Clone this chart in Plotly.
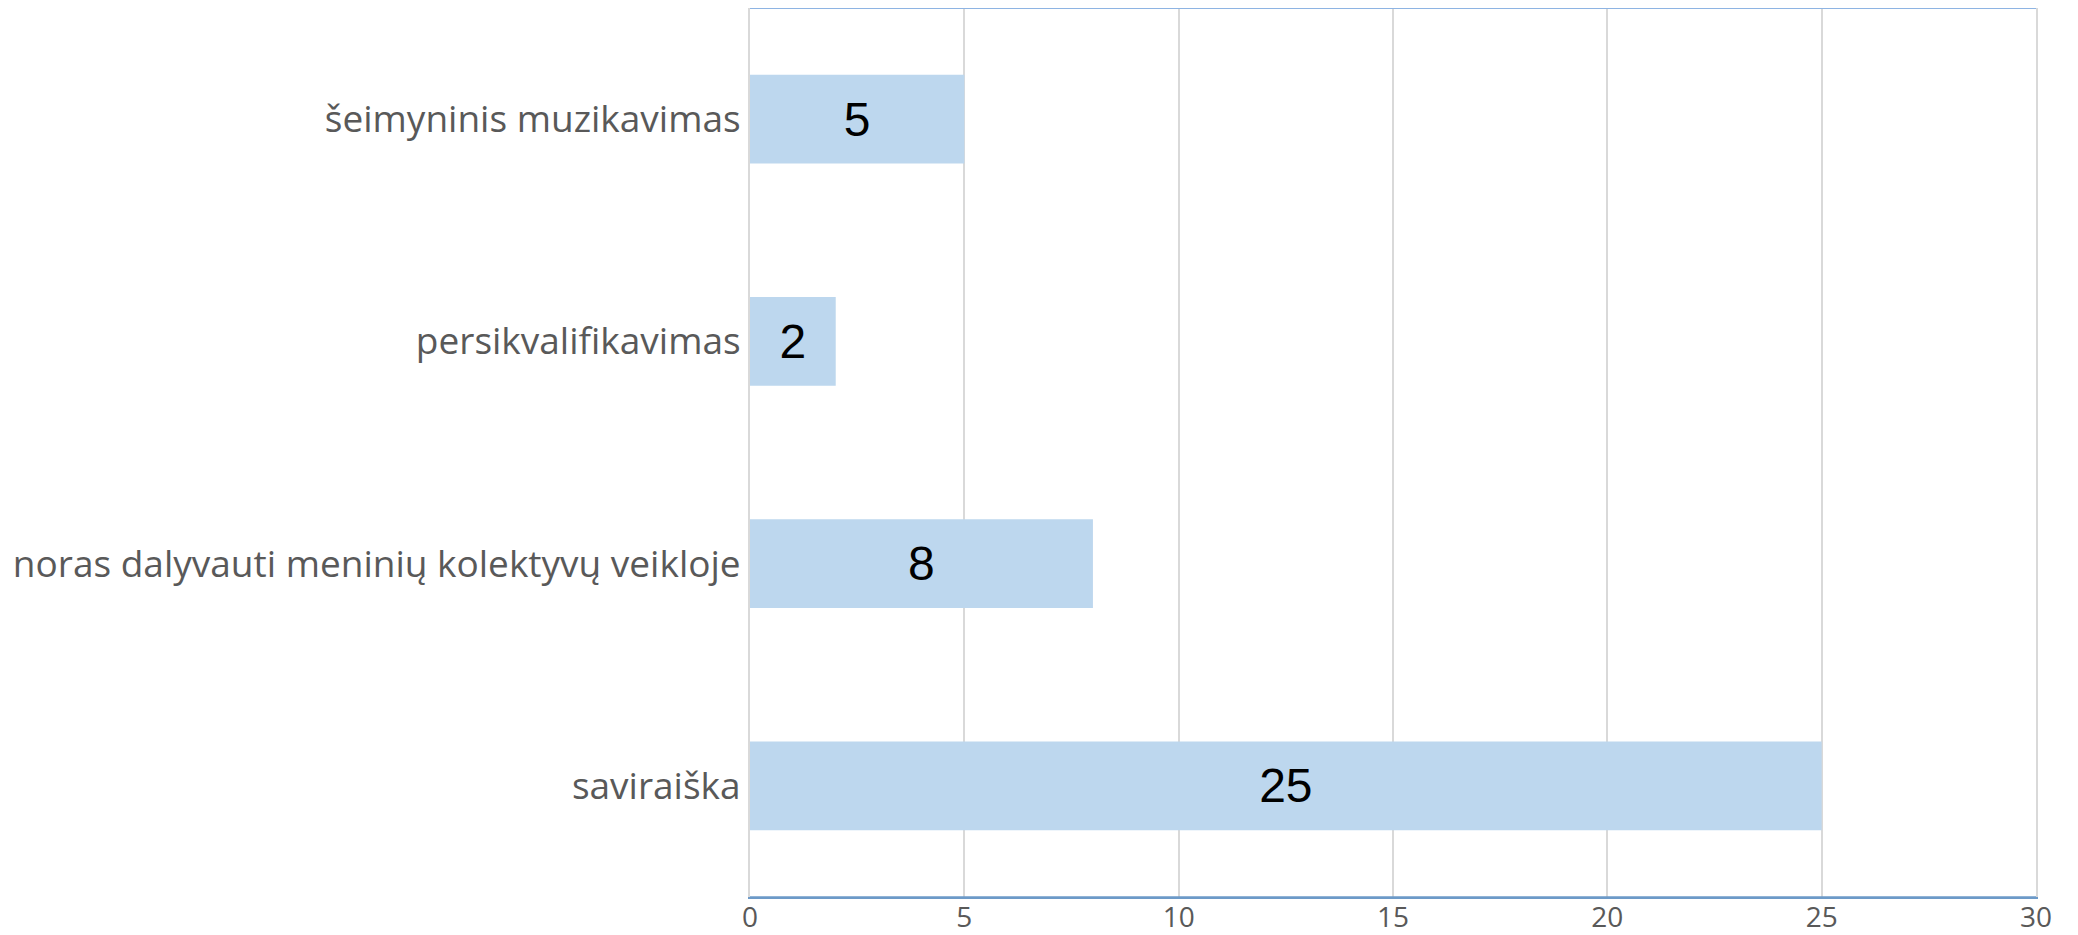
import plotly.graph_objects as go

categories = ["saviraiška", "noras dalyvauti meninių kolektyvų veikloje",
              "persikvalifikavimas", "šeimyninis muzikavimas"]
values = [25, 8, 2, 5]
x_ticks = [0, 5, 10, 15, 20, 25, 30]

fig = go.Figure()
fig.add_trace(go.Bar(
    y=categories, x=values, orientation="h",
    marker=dict(color="#bdd7ee", line=dict(width=0)),
    width=0.4,
    text=[str(v) for v in values], textposition="inside",
    insidetextanchor="middle",
    textfont=dict(family="Liberation Sans, Arial", size=48, color="#000000"),
    hoverinfo="skip",
))

fig.update_layout(
    width=2078, height=935,
    margin=dict(l=742, r=50, t=0, b=46),
    paper_bgcolor="white", plot_bgcolor="white",
    showlegend=False,
    xaxis=dict(range=[0, 30], tickvals=x_ticks, ticktext=[str(t) for t in x_ticks],
               showgrid=True, gridcolor="#d9d9d9", gridwidth=2,
               zeroline=False, showline=True, linecolor="#6d9ac8", linewidth=1.5,
               tickfont=dict(family="Open Sans", size=28, color="#595959"),
               ticks="", ticklabelstandoff=-5, fixedrange=True),
    yaxis=dict(categoryorder="array", categoryarray=categories,
               range=[-0.5, 3.5], showgrid=False, zeroline=False,
               showline=True, mirror=True, linecolor="#d9d9d9", linewidth=2,
               ticks="", ticklabelstandoff=0,
               tickfont=dict(family="Open Sans", size=37, color="#595959"),
               fixedrange=True),
    shapes=[
        dict(type="line", xref="paper", yref="paper", x0=0, x1=1, y0=1, y1=1,
             line=dict(color="#8eb4e3", width=2)),
        dict(type="line", xref="paper", yref="paper", x0=0, x1=1, y0=0, y1=0,
             line=dict(color="#6d9ac8", width=1.5)),
    ],
)

fig.write_html("out.html", config={"displayModeBar": False})
